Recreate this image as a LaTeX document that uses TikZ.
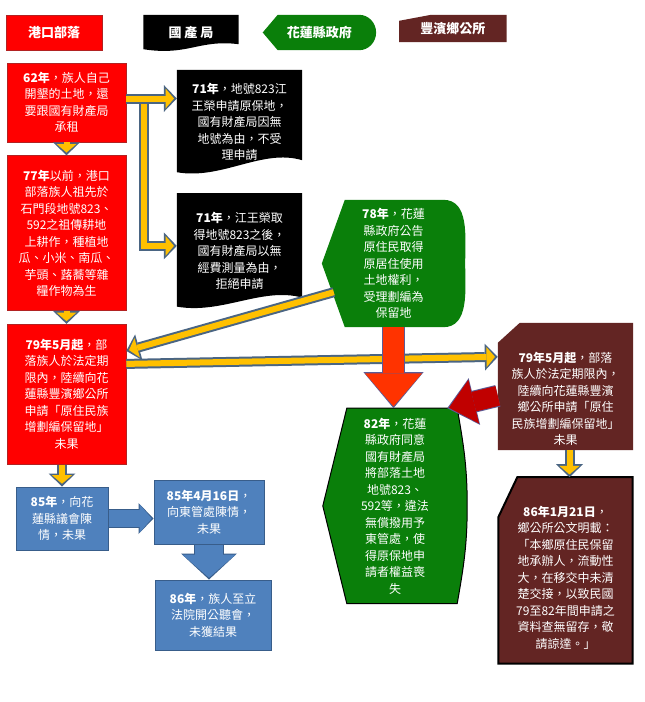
\documentclass[tikz,border=0pt]{standalone}
\usepackage{fontspec}
\usepackage{tikz}
\usetikzlibrary{arrows.meta,positioning,backgrounds}
\newfontfamily\cjk{Noto Sans CJK TC}
\definecolor{PortRed}{HTML}{FF0000}
\definecolor{PortRedEdge}{HTML}{B22222}
\definecolor{GovGreen}{HTML}{0A7F0A}
\definecolor{TownMaroon}{HTML}{632523}
\definecolor{PetBlue}{HTML}{4F81BD}
\definecolor{PetBlueEdge}{HTML}{385D8A}
\definecolor{LinkGold}{HTML}{FFC000}
\definecolor{LinkEdge}{HTML}{4A6583}
\definecolor{DropRed}{HTML}{FF3300}
\definecolor{DropEdge}{HTML}{5B5B95}
\definecolor{DeepRed}{HTML}{C00000}
% background shapes drawn from node anchors
\newcommand{\docfill}[4]{\fill[black] (#1.north west) -- (#1.north east) -- ([yshift=#2]#1.south east) .. controls ([xshift=-40pt,yshift=#4]#1.south east) and ([xshift=45pt,yshift=-6pt]#1.south west) .. ([yshift=#3]#1.south west) -- cycle;}
\newcommand{\dispfill}[6][]{\path[fill=GovGreen,#1] ([xshift=#3]#2.north west) -- ([xshift=-#4]#2.north east) to[out=#5,in=90] (#2.east) to[out=-90,in=#6] ([xshift=-#4]#2.south east) -- ([xshift=#3]#2.south west) -- (#2.west) -- cycle;}
\newcommand{\cutfill}[4][]{\path[fill=TownMaroon,#1] ([xshift=#3]#2.north west) -- (#2.north east) -- (#2.south east) -- (#2.south west) -- ([yshift=-#4]#2.north west) -- cycle;}
\newcommand{\topgap}[1]{\mbox{}\\[#1]}

\begin{document}
\begin{tikzpicture}[x=1pt,y=1pt, every node/.style={font=\cjk\fontsize{12}{16.5}\selectfont,text=white,align=center,inner sep=0pt}, hd/.style={font=\cjk\bfseries\fontsize{13}{15}\selectfont,minimum height=35pt}, rb/.style={fill=PortRed,draw=PortRedEdge,line width=0.6pt,minimum width=119pt}, bb/.style={fill=PetBlue,draw=PetBlueEdge,line width=1pt}, kb/.style={minimum width=125pt},
ya/.style={draw=LinkEdge,line width=10pt,-{Triangle[length=13pt,width=27pt,line width=0pt]},postaction={draw=LinkGold,line width=6pt,shorten >=2.8pt,-{Triangle[length=8.5pt,width=20pt,line width=0pt]}}},
ba/.style={draw=PetBlueEdge,line width=19pt,-{Triangle[length=15pt,width=31pt,line width=0pt]},postaction={draw=PetBlue,line width=17pt,shorten >=1.8pt,-{Triangle[length=12pt,width=28pt,line width=0pt]}}},
bv/.style={draw=PetBlueEdge,line width=30pt,-{Triangle[length=26pt,width=56pt,line width=0pt]},postaction={draw=PetBlue,line width=28pt,shorten >=1.8pt,-{Triangle[length=23pt,width=53pt,line width=0pt]}}},
ra/.style={draw=DropEdge,line width=23pt,-{Triangle[length=36pt,width=60pt,line width=0pt]},postaction={draw=DropRed,line width=21pt,shorten >=1.8pt,-{Triangle[length=33pt,width=57pt,line width=0pt]}}},
da/.style={draw=DropEdge,line width=22pt,-{Triangle[length=28pt,width=48pt,line width=0pt]},postaction={draw=DeepRed,line width=20pt,shorten >=1.8pt,-{Triangle[length=25.5pt,width=45pt,line width=0pt]}}}]
\useasboundingbox (0,0) rectangle (645,-702);
% headers
\node[hd,rb,minimum width=96pt] (h1) at (54,-32.5) {港口部落};
\node[hd,minimum width=95pt,right=41pt of h1] (h2) {國\hspace{3pt}產\hspace{3pt}局};
\node[hd,minimum width=113pt,right=24pt of h2] (h3) {花蓮縣政府};
\node[hd,minimum width=107pt,minimum height=27pt,right=23pt of h3,yshift=4pt] (h4) {豐濱鄉公所};
% 港口部落
\node[rb,minimum height=79pt] (r62) at (66.5,-102.5) {\textbf{62年}，族人自己\\開墾的土地，還\\要跟國有財產局\\承租};
\node[rb,minimum height=155pt,below=13pt of r62] (r77) {\textbf{77年}以前，港口\\部落族人祖先於\\石門段地號823、\\592之祖傳耕地\\上耕作，種植地\\瓜、小米、南瓜、\\芋頭、蕗蕎等雜\\糧作物為生};
\node[rb,minimum height=140pt,below=13pt of r77] (r79) {\textbf{79年5月起}，部\\落族人於法定期\\限內，陸續向花\\蓮縣豐濱鄉公所\\申請「原住民族\\增劃編保留地」\\未果};
\node[bb,minimum width=92pt,minimum height=63pt,below=22pt of r79,xshift=-4.5pt] (b85) {\textbf{85年}，向花\\蓮縣議會陳\\情，未果};
\node[bb,minimum width=110pt,minimum height=64pt,right=45pt of b85,yshift=6.5pt] (b8516) {\textbf{85年4月16日}，\\向東管處陳情，\\未果};
\node[bb,minimum width=116pt,minimum height=70pt,below=35pt of b8516,xshift=4pt] (b86) {\textbf{86年}，族人至立\\法院開公聽會，\\未獲結果};
% 國產局
\node[kb,minimum height=104pt] (k71a) at (239.5,-122) {\textbf{71年}，地號823江\\王榮申請原保地，\\國有財產局因無\\地號為由，不受\\理申請};
\node[kb,minimum height=115pt,below=19pt of k71a] (k71b) {\textbf{71年}，江王榮取\\得地號823之後，\\國有財產局以無\\經費測量為由，\\拒絕申請};
% 花蓮縣政府
\node[minimum width=143pt,minimum height=127pt] (g78) at (393.5,-263.5) {\textbf{78年}，花蓮\\縣政府公告\\原住民取得\\原居住使用\\土地權利，\\受理劃編為\\保留地};
\node[minimum width=144pt,minimum height=195pt,below=81pt of g78,xshift=1.5pt] (g82) {\textbf{82年}，花蓮\\縣政府同意\\國有財產局\\將部落土地\\地號823、\\592等，違法\\無償撥用予\\東管處，使\\得原保地申\\請者權益喪\\失};
% 豐濱鄉公所
\node[minimum width=135pt,minimum height=127pt] (m79) at (565.5,-386.5) {\topgap{18pt}\textbf{79年5月起}，部落\\族人於法定期限內，\\陸續向花蓮縣豐濱\\鄉公所申請「原住\\民族增劃編保留地」\\未果};
\node[minimum width=134pt,minimum height=186pt,below=27pt of m79] (m86) {\topgap{8pt}\textbf{86年1月21日}，\\鄉公所公文明載：\\「本鄉原住民保留\\地承辦人，流動性\\大，在移交中未清\\楚交接，以致民國\\79至82年間申請之\\資料查無留存，敬\\請諒達。」};
\begin{scope}[on background layer]
\fill[white] (0,0) rectangle (645,-702);
\docfill{h2}{6pt}{1pt}{11pt}
\docfill{k71a}{14pt}{2pt}{26pt}
\docfill{k71b}{11pt}{2pt}{22pt}
\dispfill{h3}{15pt}{17pt}{0}{0}
\dispfill{g78}{23pt}{22pt}{0}{0}
\dispfill[draw=black,line width=1pt]{g82}{24pt}{10pt}{-80}{80}
\cutfill{h4}{32pt}{6pt}
\cutfill{m79}{22pt}{20pt}
\cutfill[draw=black,line width=2pt]{m86}{19pt}{40pt}
\end{scope}
% connectors
\coordinate (p62) at ([yshift=4pt]r62.east);
\coordinate (fork) at ([xshift=18pt]p62);
\draw[ya] (fork) |- ([yshift=5pt]k71b.west);
\draw[ya] (p62) -- (p62 -| k71a.west);
\draw[ya] (r62) -- (r77);
\draw[ya] (r77) -- (r79);
\draw[ya] (b85.north |- r79.south) -- (b85.north);
\coordinate (g78out) at ([xshift=12pt,yshift=35pt]g78.south west);
\coordinate (r79in) at ([yshift=-27pt]r79.north east);
\draw[ya] (g78out) -- (r79in);
\coordinate (r79out) at ([yshift=-40pt]r79.north east);
\coordinate (m79in) at ([yshift=-34pt]m79.north west);
\draw[ya] (r79out) -- (m79in);
\draw[ya] ([xshift=4pt]m79.south) -- ([xshift=4pt]m86.north);
\draw[ba] (b85.east) -- (b85.east -| b8516.west);
\draw[bv] (b8516.south) -- (b8516.south |- b86.north);
\draw[ra] (g78.south) -- (g78.south |- g82.north);
\coordinate (m79red) at ([yshift=-73pt]m79.north west);
\coordinate (g82red) at ([xshift=-20pt]g82.north east);
\draw[da] (m79red) -- (g82red);
\end{tikzpicture}
\end{document}
